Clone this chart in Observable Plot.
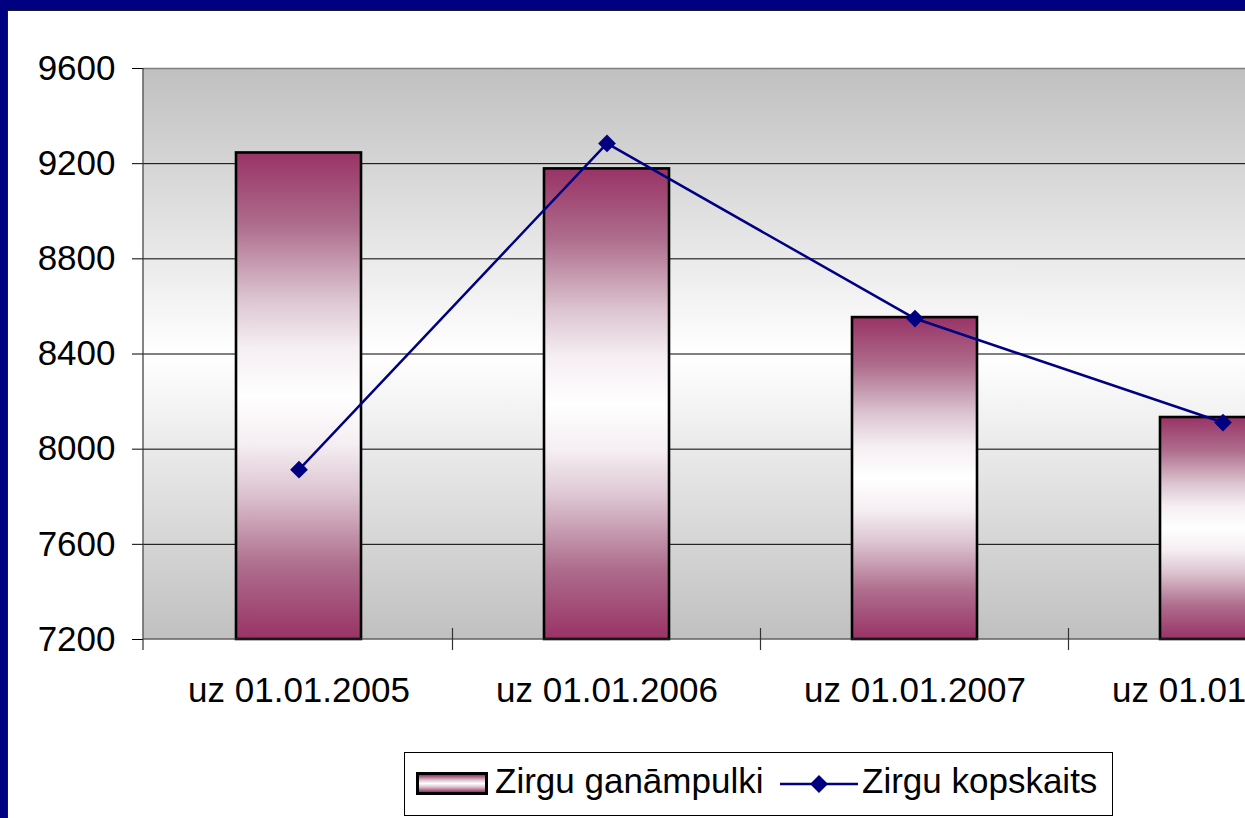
<!DOCTYPE html>
<html>
<head>
<meta charset="utf-8">
<script src="https://cdn.jsdelivr.net/npm/d3@7"></script>
<script src="https://cdn.jsdelivr.net/npm/@observablehq/plot@0.6"></script>
<style>
html,body{margin:0;padding:0;width:1245px;height:818px;overflow:hidden;background:#000080;font-family:"Liberation Sans",Arial,sans-serif;}
#panel{position:absolute;left:7px;top:10px;width:1400px;height:900px;background:#fff;border-left:1px solid #1a1a2a;border-top:1px solid #1a1a2a;}
#chart{position:absolute;left:0;top:0;}
#legend{position:absolute;left:404px;top:752px;width:707px;height:62px;border:1px solid #000;background:#fff;font-size:35px;color:#000;}
#legend .t{position:absolute;top:10px;line-height:35px;white-space:nowrap;}
#legend .sw{position:absolute;left:11px;top:19px;width:66px;height:17px;border:3px solid #000;background:linear-gradient(to bottom,#993366 0%,#dcc4d0 30%,#ffffff 50%,#dcc4d0 70%,#993366 100%);}
#legend svg{position:absolute;}
</style>
</head>
<body>
<div id="panel"><div id="chart"></div></div>
<div id="legend"></div>
<script>
const categories = ["uz 01.01.2005", "uz 01.01.2006", "uz 01.01.2007", "uz 01.01.2008"];
const herds = [9245, 9178, 8553, 8133];      // Zirgu ganāmpulki (bars)
const totals = [7914, 9285, 8549, 8112];     // Zirgu kopskaits (line)
const yTicks = [7200, 7600, 8000, 8400, 8800, 9200, 9600];
const seriesNames = ["Zirgu ganāmpulki", "Zirgu kopskaits"];

const data = categories.map((c, i) => ({cat: c, herd: herds[i], total: totals[i]}));

const NS = "http://www.w3.org/2000/svg";
function el(name, attrs) {
  const e = document.createElementNS(NS, name);
  for (const k in attrs) e.setAttribute(k, attrs[k]);
  return e;
}

function axesMark(index, scales, values, dimensions) {
  const {width, height, marginLeft, marginRight, marginTop, marginBottom} = dimensions;
  const g = el("g", {});
  const x0 = marginLeft, x1 = width - marginRight, yb = height - marginBottom, yt = marginTop;
  const ln = (a, b, c, d) => g.appendChild(el("line", {x1: a, y1: b, x2: c, y2: d, stroke: "#333", "stroke-width": 1.2}));
  ln(x0, yt, x0, yb + 11);
  ln(x0, yb, x1, yb);
  const xs = scales.x;
  const bw = xs.bandwidth ? xs.bandwidth() : 0;
  for (let i = 1; i < categories.length; i++) {
    const b = (xs(categories[i - 1]) + xs(categories[i])) / 2 + bw / 2;
    ln(b, yb - 11, b, yb + 11);
  }
  return g;
}

const chart = Plot.plot({
  width: 1400,
  height: 729,
  marginLeft: 135,
  marginRight: 31,
  marginTop: 57,
  marginBottom: 101,
  style: {fontFamily: '"Liberation Sans", Arial, sans-serif', fontSize: "35px", maxWidth: "none", overflow: "visible", background: "transparent", color: "#000"},
  x: {type: "band", domain: categories, paddingInner: 0.595, paddingOuter: 0.2975, align: 0.5, label: null, tickSize: 0, tickPadding: 38},
  y: {domain: [7200, 9600], ticks: yTicks, tickFormat: d => String(d), tickSize: 11, tickPadding: 17, label: null},
  marks: [
    Plot.frame({fill: "url(#bgGrad)", stroke: "none"}),
    Plot.ruleY(yTicks.slice(1, -1), {stroke: "#000", strokeWidth: 1}),
    Plot.ruleY([yTicks[yTicks.length - 1]], {stroke: "#808080", strokeWidth: 1.5}),
    Plot.barY(data, {x: "cat", y1: 7200, y2: "herd", fill: "url(#barGrad)", stroke: "#000", strokeWidth: 2.6}),
    axesMark,
    Plot.line(data, {x: "cat", y: "total", stroke: "#000080", strokeWidth: 2.5}),
    Plot.dot(data, {x: "cat", y: "total", symbol: "diamond2", r: 8, fill: "#000080", stroke: "none"})
  ]
});

const svg = chart.tagName.toLowerCase() === "svg" ? chart : chart.querySelector("svg");
const defs = el("defs", {});
const bg = el("linearGradient", {id: "bgGrad", x1: 0, y1: 0, x2: 0, y2: 1});
[["0", "#c0c0c0"], ["0.5", "#ffffff"], ["1", "#c0c0c0"]].forEach(([o, c]) => bg.appendChild(el("stop", {offset: o, "stop-color": c})));
const bar = el("linearGradient", {id: "barGrad", x1: 0, y1: 0, x2: 0, y2: 1});
[["0", "#993366"], ["0.15", "#ae6d8d"], ["0.3", "#dcc4d0"], ["0.4", "#f5eef2"], ["0.5", "#ffffff"],
 ["0.6", "#f5eef2"], ["0.7", "#dcc4d0"], ["0.85", "#ae6d8d"], ["1", "#993366"]]
  .forEach(([o, c]) => bar.appendChild(el("stop", {offset: o, "stop-color": c})));
defs.appendChild(bg); defs.appendChild(bar);
svg.insertBefore(defs, svg.firstChild);
document.getElementById("chart").appendChild(chart);

// legend
const legend = document.getElementById("legend");
const sw = document.createElement("div"); sw.className = "sw"; legend.appendChild(sw);
const t1 = document.createElement("span"); t1.className = "t"; t1.style.left = "90px"; t1.textContent = seriesNames[0]; legend.appendChild(t1);
const ls = el("svg", {width: 78, height: 22});
ls.style.left = "375px"; ls.style.top = "20px";
ls.appendChild(el("line", {x1: 0, y1: 11, x2: 78, y2: 11, stroke: "#000080", "stroke-width": 2.3}));
ls.appendChild(el("path", {d: "M39,2L48,11L39,20L30,11Z", fill: "#000080"}));
legend.appendChild(ls);
const t2 = document.createElement("span"); t2.className = "t"; t2.style.left = "457px"; t2.textContent = seriesNames[1]; legend.appendChild(t2);
</script>
</body>
</html>
